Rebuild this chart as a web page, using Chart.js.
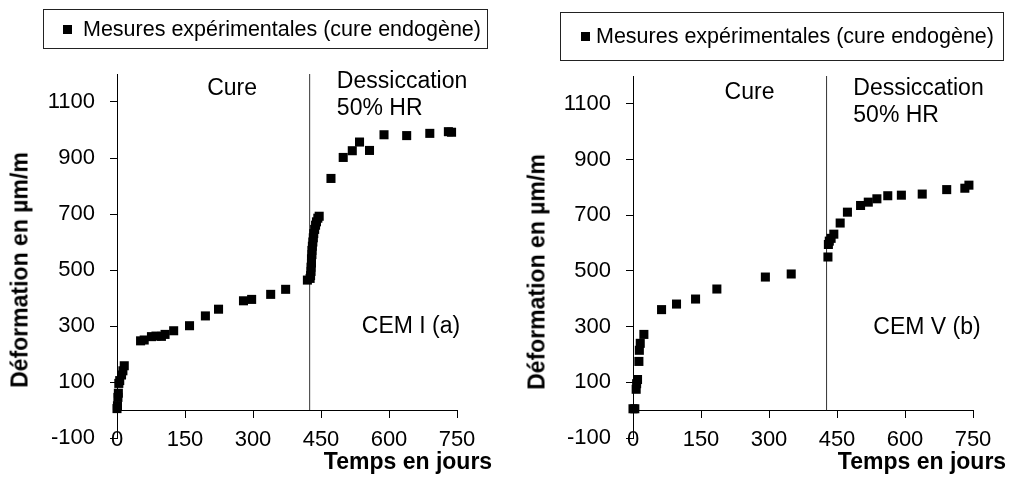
<!DOCTYPE html>
<html>
<head>
<meta charset="utf-8">
<script src="https://cdn.jsdelivr.net/npm/chart.js@4.4.0/dist/chart.umd.min.js"></script>
<style>
  body { margin: 0; background: #fff; font-family: "Liberation Sans", Arial, sans-serif; }
  #wrap { position: relative; width: 1012px; height: 480px; overflow: hidden; }
  canvas { position: absolute; top: 0; }
  .legend { position: absolute; border: 1px solid #222; box-sizing: border-box; display: flex; align-items: center; font-size: 21.5px; white-space: nowrap; }
  .legend i { display: inline-block; width: 9px; height: 9px; background: #000; }
  .title { position: absolute; font-weight: bold; font-size: 23px; white-space: nowrap; transform: translate(-50%, -50%); }
  .title.rot { transform: translate(-50%, -50%) rotate(-90deg); }
</style>
</head>
<body>
<div id="wrap">
  <canvas id="chartA" width="506" height="480" style="left:0"></canvas>
  <canvas id="chartB" width="506" height="480" style="left:506px"></canvas>

  <div class="legend" style="left:43px;top:9px;width:445px;height:40px">
    <i style="margin-left:19px"></i><span style="margin-left:11px">Mesures expérimentales (cure endogène)</span>
  </div>
  <div class="legend" style="left:560px;top:12px;width:444px;height:49px">
    <i style="margin-left:20px"></i><span style="margin-left:6px">Mesures expérimentales (cure endogène)</span>
  </div>

  <div class="title rot" style="left:20px;top:270px">Déformation en µm/m</div>
  <div class="title rot" style="left:537px;top:272px">Déformation en µm/m</div>
  <div class="title" style="left:408px;top:461px">Temps en jours</div>
  <div class="title" style="left:922px;top:461px">Temps en jours</div>
</div>

<script>
// tick labels
const xTicks = [0, 150, 300, 450, 600, 750];
const yTicks = [-100, 100, 300, 500, 700, 900, 1100];

// CEM I (a): time in days, deformation in µm/m
const daysA = [0, 1, 2, 3, 4, 6, 10, 13, 16,
  52, 60, 76, 86, 98, 106, 125, 160, 195, 224, 279, 297, 339, 372, 420,
  426, 427, 428, 428, 429, 429, 430, 430, 431, 432, 433, 434, 436, 438, 440, 443, 446,
  472, 499, 519, 535, 557, 589, 639, 690, 731, 738];
const defA = [5, 15, 45, 60, 95, 105, 125, 140, 158,
  247, 250, 262, 264, 263, 270, 283, 301, 336, 360, 390, 395, 413, 431, 464,
  470, 480, 495, 510, 525, 540, 555, 570, 585, 600, 615, 630, 645, 660, 672, 685, 692,
  827, 902, 926, 957, 927, 983, 980, 988, 994, 992];

// CEM V (b)
const daysB = [0, 4, 7, 8, 10, 13, 14, 16, 24,
  63, 96, 138, 185, 292, 349,
  430, 431, 433, 437, 443,
  457, 473, 502, 519, 538, 562, 592, 638, 692, 732, 741];
const defB = [5, 5, 75, 95, 110, 175, 215, 240, 272,
  361, 381, 399, 435, 478, 489,
  550, 595, 607, 617, 632,
  672, 711, 735, 747, 759, 770, 772, 776, 792, 797, 808];

// end of curing (vertical separator), in days
const cureEndA = 425;
const cureEndB = 427;

const FONT = '"Liberation Sans", Arial, sans-serif';

// text labels placed in data coordinates
const textPlugin = {
  id: 'panelText',
  afterDatasetsDraw(chart, args, opts) {
    const { ctx, scales } = chart;
    ctx.save();
    ctx.fillStyle = '#000';
    ctx.font = '23px ' + FONT;
    ctx.textBaseline = 'middle';
    for (const t of opts.items || []) {
      ctx.textAlign = t.align;
      ctx.fillText(t.text, scales.x.getPixelForValue(t.x), scales.y.getPixelForValue(t.y));
    }
    ctx.restore();
  }
};

function makePanel(id, days, defs, cureEnd, texts, yWidth, pad) {
  const pts = days.map((d, i) => ({ x: d, y: defs[i] }));
  return new Chart(document.getElementById(id), {
    type: 'scatter',
    data: {
      datasets: [
        {
          data: pts,
          pointStyle: 'rect',
          pointRadius: 6.4,
          pointHoverRadius: 6.4,
          borderWidth: 0,
          backgroundColor: '#000',
          clip: false
        },
        {
          data: [{ x: cureEnd, y: 0 }, { x: cureEnd, y: 1200 }],
          showLine: true,
          pointRadius: 0,
          borderColor: '#333',
          borderWidth: 1
        }
      ]
    },
    options: {
      responsive: false,
      animation: false,
      events: [],
      layout: { padding: pad },
      plugins: {
        legend: { display: false },
        tooltip: { enabled: false },
        panelText: { items: texts }
      },
      scales: {
        x: {
          type: 'linear',
          position: { y: 0 },
          min: 0, max: 750,
          afterBuildTicks: s => { s.ticks = xTicks.map(v => ({ value: v })); },
          ticks: { color: '#000', font: { family: FONT, size: 22 }, padding: 10, maxRotation: 0, callback: v => String(v) },
          grid: { drawOnChartArea: false, drawTicks: true, tickLength: 7, color: '#000' },
          border: { display: true, color: '#000', width: 1 }
        },
        y: {
          type: 'linear',
          min: -100, max: 1200,
          afterBuildTicks: s => { s.ticks = yTicks.map(v => ({ value: v })); },
          afterFit: s => { s.width = yWidth; },
          ticks: { color: '#000', font: { family: FONT, size: 22 }, padding: 15, callback: v => String(v) },
          grid: { drawOnChartArea: false, drawTicks: true, tickLength: 7, color: '#000' },
          border: { display: true, color: '#000', width: 1 }
        }
      }
    },
    plugins: [textPlugin]
  });
}

makePanel('chartA', daysA, defA, cureEndA, [
  { text: 'Cure', x: 254, y: 1146, align: 'center' },
  { text: 'Dessiccation', x: 485, y: 1173, align: 'left' },
  { text: '50% HR', x: 485, y: 1077, align: 'left' },
  { text: 'CEM I (a)', x: 540, y: 296, align: 'left' }
], 117, { left: 0, right: 49, top: 74, bottom: 42 });

makePanel('chartB', daysB, defB, cureEndB, [
  { text: 'Cure', x: 257, y: 1139, align: 'center' },
  { text: 'Dessiccation', x: 486, y: 1155, align: 'left' },
  { text: '50% HR', x: 486, y: 1058, align: 'left' },
  { text: 'CEM V (b)', x: 530, y: 298, align: 'left' }
], 127, { left: 0, right: 39, top: 76, bottom: 42 });
</script>
</body>
</html>
